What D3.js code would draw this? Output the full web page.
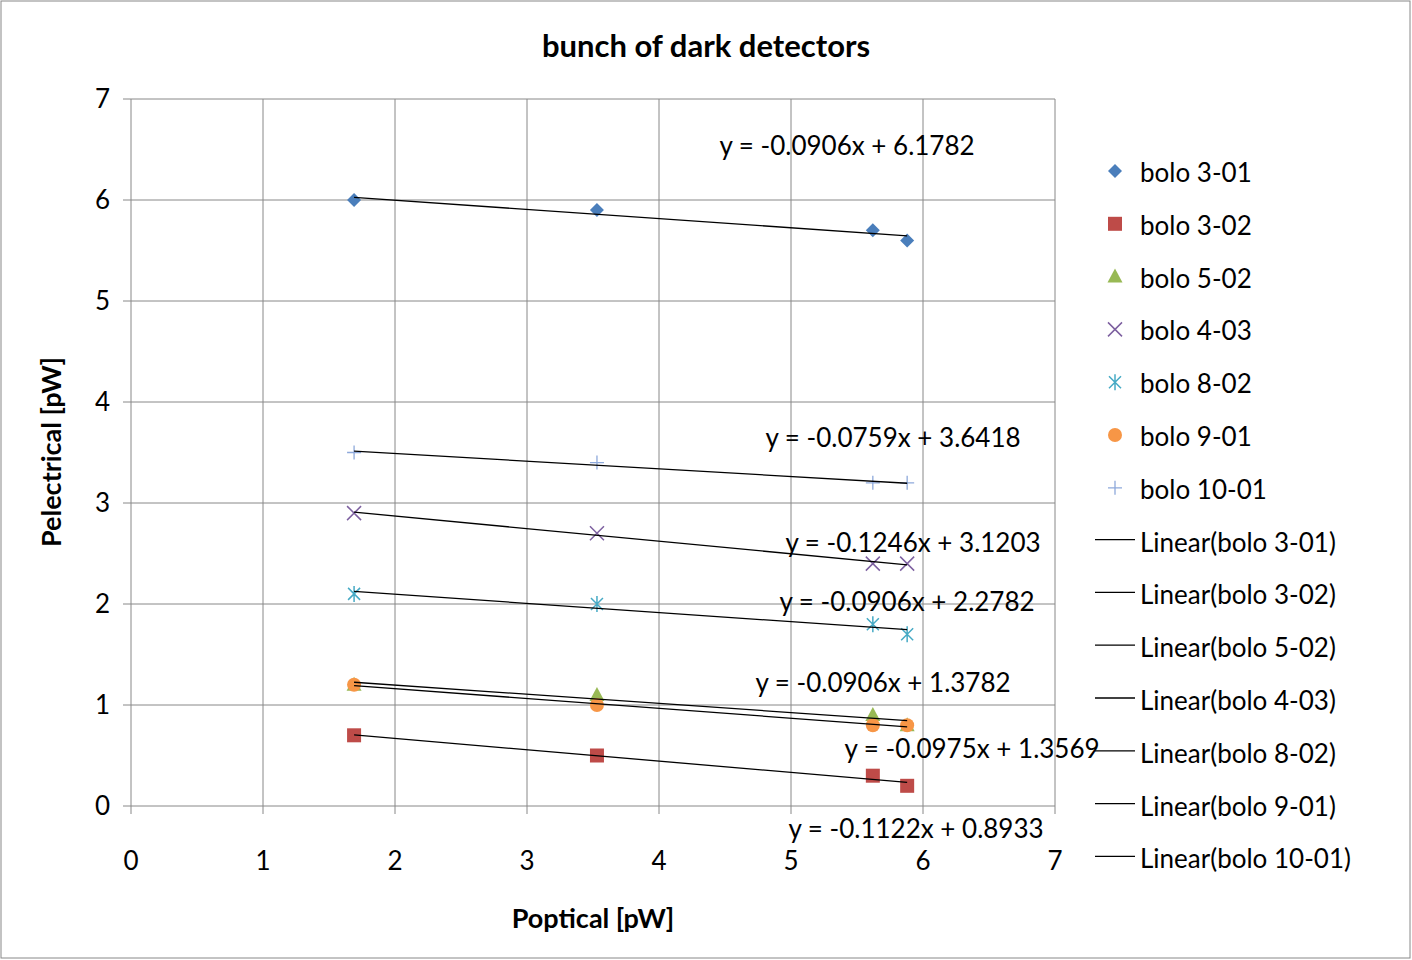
<!DOCTYPE html>
<html><head><meta charset="utf-8">
<script src="https://cdn.jsdelivr.net/npm/d3@7"></script>
<style>body{margin:0;background:#fff}text{font-family:Lato,"Open Sans",sans-serif}</style>
</head><body><svg id="c" width="1412" height="960"></svg>
<script>
const xVals=[1.69,3.53,5.62,5.88];
const seriesNames=["bolo 3-01","bolo 3-02","bolo 5-02","bolo 4-03","bolo 8-02","bolo 9-01","bolo 10-01"];
const s301=[6.0,5.9,5.7,5.6];
const s302=[0.7,0.5,0.3,0.2];
const s502=[1.2,1.1,0.9,0.8];
const s403=[2.9,2.7,2.4,2.4];
const s802=[2.1,2.0,1.8,1.7];
const s901=[1.2,1.0,0.8,0.8];
const s1001=[3.5,3.4,3.2,3.2];
const slopes=[-0.0906,-0.1122,-0.0906,-0.1246,-0.0906,-0.0975,-0.0759];
const intercepts=[6.1782,0.8933,1.3782,3.1203,2.2782,1.3569,3.6418];
const eqLabels=["y = -0.0906x + 6.1782","y = -0.1122x + 0.8933","y = -0.0906x + 1.3782","y = -0.1246x + 3.1203","y = -0.0906x + 2.2782","y = -0.0975x + 1.3569","y = -0.0759x + 3.6418"];
const ticks=[0,1,2,3,4,5,6,7];
const allY=[s301,s302,s502,s403,s802,s901,s1001];
const colors=["#4A7EBB","#BE4B48","#98B954","#7D60A0","#46AAC5","#F79646","#8EA9DB"];
const markers=["diamond","square","triangle","x","star","circle","plus"];
const labelPos=[[847,146],[916,829],[883,683],[913,543],[907,602],[972,749],[893,438]];

const svg=d3.select("#c");
svg.append("rect").attr("x",1).attr("y",1).attr("width",1409).attr("height",957).attr("fill","#fff").attr("stroke","#888");
const x=d3.scaleLinear().domain([0,7]).range([131,1055]);
const y=d3.scaleLinear().domain([0,7]).range([806,99]);
const g=svg.append("g");
ticks.forEach(t=>{
 g.append("line").attr("x1",x(t)).attr("x2",x(t)).attr("y1",99).attr("y2",814).attr("stroke","#888").attr("stroke-width",1);
 g.append("line").attr("x1",123).attr("x2",1055).attr("y1",y(t)).attr("y2",y(t)).attr("stroke","#888").attr("stroke-width",1);
 g.append("text").attr("x",x(t)).attr("y",870).attr("text-anchor","middle").attr("font-size",26).text(t);
 g.append("text").attr("x",110).attr("y",y(t)+9).attr("text-anchor","end").attr("font-size",26).text(t);
});
svg.append("text").attr("x",706).attr("y",57).attr("text-anchor","middle").attr("font-size",31).attr("font-weight","bold").text("bunch of dark detectors");
svg.append("text").attr("x",593).attr("y",928).attr("text-anchor","middle").attr("font-size",27).attr("font-weight","bold").text("Poptical [pW]");
svg.append("text").attr("transform","translate(61,452) rotate(-90)").attr("text-anchor","middle").attr("font-size",27).attr("font-weight","bold").text("Pelectrical [pW]");

function marker(sel,type,c){
 const s=7;
 if(type==="diamond") sel.append("path").attr("d",`M0,${-s}L${s},0L0,${s}L${-s},0Z`).attr("fill",c);
 else if(type==="square") sel.append("rect").attr("x",-7).attr("y",-7).attr("width",14).attr("height",14).attr("fill",c);
 else if(type==="triangle") sel.append("path").attr("d","M0,-8L7.5,6L-7.5,6Z").attr("fill",c);
 else if(type==="circle") sel.append("circle").attr("r",7).attr("fill",c);
 else if(type==="x") sel.append("path").attr("d","M-7,-7L7,7M-7,7L7,-7").attr("stroke",c).attr("stroke-width",1.5);
 else if(type==="star") sel.append("path").attr("d","M-6,-6L6,6M-6,6L6,-6M0,-8L0,8").attr("stroke",c).attr("stroke-width",1.5);
 else if(type==="plus") sel.append("path").attr("d","M-7,0L7,0M0,-7L0,7").attr("stroke",c).attr("stroke-width",1.3);
}
allY.forEach((ys,i)=>{
 ys.forEach((v,j)=>marker(g.append("g").attr("transform",`translate(${x(xVals[j])},${y(v)})`),markers[i],colors[i]));
});
allY.forEach((ys,i)=>{
 const x0=d3.min(xVals),x1=d3.max(xVals);
 g.append("line").attr("x1",x(x0)).attr("y1",y(slopes[i]*x0+intercepts[i])).attr("x2",x(x1)).attr("y2",y(slopes[i]*x1+intercepts[i])).attr("stroke","#000").attr("stroke-width",1.3);
 g.append("text").attr("x",labelPos[i][0]).attr("y",labelPos[i][1]+9).attr("text-anchor","middle").attr("font-size",26).text(eqLabels[i]);
});
const lg=svg.append("g");
seriesNames.forEach((n,i)=>{
 const yy=173+i*52.8;
 marker(lg.append("g").attr("transform",`translate(1115,${yy-2})`),markers[i],colors[i]);
 lg.append("text").attr("x",1140).attr("y",yy+9).attr("font-size",26).text(n);
});
seriesNames.forEach((n,i)=>{
 const yy=173+(i+7)*52.8;
 lg.append("line").attr("x1",1095).attr("x2",1135).attr("y1",yy-3).attr("y2",yy-3).attr("stroke","#000").attr("stroke-width",1.3);
 lg.append("text").attr("x",1140).attr("y",yy+9).attr("font-size",26).text("Linear("+n+")");
});
</script></body></html>
